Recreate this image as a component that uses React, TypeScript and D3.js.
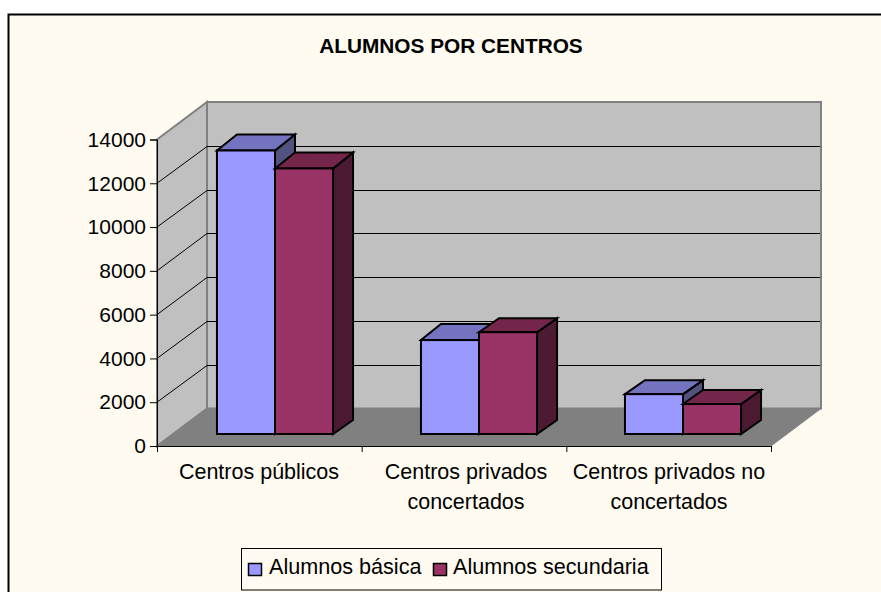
import React, { useEffect, useRef } from 'react';
import * as d3 from 'd3';

const title = 'ALUMNOS POR CENTROS';
const categories = ['Centros públicos', 'Centros privados concertados', 'Centros privados no concertados'];
const categoryLines = [['Centros públicos'], ['Centros privados', 'concertados'], ['Centros privados no', 'concertados']];
const seriesNames = ['Alumnos básica', 'Alumnos secundaria'];
const basica = [12950, 4290, 1820];
const secundaria = [12130, 4650, 1370];
const yTicks = [0, 2000, 4000, 6000, 8000, 10000, 12000, 14000];
const faceColors = ['#9999FF', '#993366'];
const topColors = ['#7373BF', '#732649'];
const sideColors = ['#52527F', '#4C1A33'];

const FONT = '"Liberation Sans", Arial, sans-serif';

export default function App() {
    const ref = useRef<SVGSVGElement | null>(null);

    useEffect(() => {
        const svg = d3.select(ref.current);
        svg.selectAll('*').remove();

        // frame runs off the right and bottom of the window
        svg.append('rect').attr('x', 8.5).attr('y', 14.5).attr('width', 900).attr('height', 600)
            .attr('fill', '#FFFBF0').attr('stroke', '#000').attr('stroke-width', 2);

        svg.append('text').attr('x', 451).attr('y', 53).attr('text-anchor', 'middle')
            .attr('font-size', 20.8).attr('font-weight', 'bold').text(title);

        const y = d3.scaleLinear().domain([0, 14000]).range([446, 139.5]);
        const x = d3.scaleBand<string>().domain(categories).range([157, 769]).paddingInner(0.431).paddingOuter(0.2155);
        const xSeries = d3.scaleBand<string>().domain(seriesNames).range([0, x.bandwidth()]);

        // 3d offsets: wall depth and bar depth
        const depthX = 50, depthY = 37.5;
        const barX = 20, barY = 14, barShiftX = 16, barShiftY = 12;

        const poly = (pts: number[][]) => d3.line()(pts as [number, number][]) + 'Z';
        const x0 = 157, x1 = 771, y0 = y(0), yTop = y(14000);

        // walls
        svg.append('path').attr('d', poly([[x0 + depthX, yTop - depthY], [x1 + depthX, yTop - depthY], [x1 + depthX, y0 - depthY], [x0 + depthX, y0 - depthY]]))
            .attr('fill', '#C0C0C0').attr('stroke', '#808080').attr('stroke-width', 2);
        svg.append('path').attr('d', poly([[x0, yTop], [x0 + depthX, yTop - depthY], [x0 + depthX, y0 - depthY], [x0, y0]]))
            .attr('fill', '#C0C0C0').attr('stroke', '#808080').attr('stroke-width', 2);

        // gridlines, side wall then back wall
        const grid = svg.append('g').attr('stroke', '#000').attr('stroke-width', 1).attr('fill', 'none');
        yTicks.slice(1, -1).forEach(t => {
            const backY = Math.round(y(t) - depthY) + 0.5;
            grid.append('path').attr('d', d3.line()([[x0, y(t)], [x0 + depthX, backY], [x1 + depthX - 1, backY]]));
        });

        // floor
        svg.append('path').attr('d', poly([[x0, y0], [x0 + depthX, y0 - depthY], [x1 + depthX, y0 - depthY], [x1, y0]]))
            .attr('fill', '#808080').attr('stroke', '#808080').attr('stroke-width', 1);

        // bars
        const values = [basica, secundaria];
        const bars = svg.append('g').attr('stroke', '#000').attr('stroke-width', 2).attr('stroke-linejoin', 'miter');
        categories.forEach((c, ci) => {
            seriesNames.forEach((s, si) => {
                const bx0 = (x(c) as number) + (xSeries(s) as number) + barShiftX;
                const bx1 = bx0 + xSeries.bandwidth();
                const by0 = y(0) - barShiftY;
                const by1 = y(values[si][ci]) - barShiftY;
                // the first three bars have a slightly deeper top in the original
                const topY = ci * 2 + si < 3 ? 16 : barY;
                bars.append('path').attr('fill', sideColors[si])
                    .attr('d', poly([[bx1, by1], [bx1 + barX, by1 - topY], [bx1 + barX, by0 - barY], [bx1, by0]]));
                bars.append('path').attr('fill', topColors[si])
                    .attr('d', poly([[bx0, by1], [bx0 + barX, by1 - topY], [bx1 + barX, by1 - topY], [bx1, by1]]));
                bars.append('rect').attr('fill', faceColors[si])
                    .attr('x', bx0).attr('y', by1).attr('width', bx1 - bx0).attr('height', by0 - by1);
            });
        });

        // y axis
        const yAxis = svg.append('g').attr('transform', `translate(${x0},0)`)
            .call(d3.axisLeft(y).tickValues(yTicks).tickFormat(d3.format('d') as any).tickSize(7).tickPadding(4));
        yAxis.selectAll('text').attr('font-size', 21).attr('font-family', FONT).attr('fill', '#000');
        yAxis.selectAll('line').attr('stroke', '#000');
        yAxis.select('.domain').attr('stroke', '#000');

        // x axis
        const axisX = d3.scalePoint<number>().domain(d3.range(4)).range([x0, x1]);
        svg.append('g').attr('transform', `translate(0,${y0})`)
            .call(d3.axisBottom(axisX).tickSize(6).tickFormat(() => ''))
            .call(g => g.selectAll('line').attr('stroke', '#000'))
            .call(g => g.select('.domain').attr('stroke', '#000'));

        // category labels
        const labelCenters = [259, 466, 669];
        categories.forEach((c, ci) => {
            categoryLines[ci].forEach((line, li) => {
                svg.append('text').attr('x', labelCenters[ci]).attr('y', 479 + li * 30)
                    .attr('text-anchor', 'middle').attr('font-size', 21.5).text(line);
            });
        });

        // legend
        const legend = svg.append('g');
        legend.append('rect').attr('x', 241.5).attr('y', 548.5).attr('width', 420).attr('height', 41.5)
            .attr('fill', '#FFFBF0').attr('stroke', '#000').attr('stroke-width', 1);
        const swatchX = [248, 433];
        const labelX = [269, 453];
        seriesNames.forEach((s, si) => {
            legend.append('rect').attr('x', swatchX[si] + 0.5).attr('y', 563.5).attr('width', 13).attr('height', 12)
                .attr('fill', faceColors[si]).attr('stroke', '#000').attr('stroke-width', 1.5);
            legend.append('text').attr('x', labelX[si]).attr('y', 574).attr('font-size', 21.6).text(s);
        });
    }, []);

    return (
        <svg ref={ref} width={881} height={592} fontFamily={FONT}
            style={{ position: 'absolute', left: 0, top: 0, background: '#fff' }} />
    );
}
